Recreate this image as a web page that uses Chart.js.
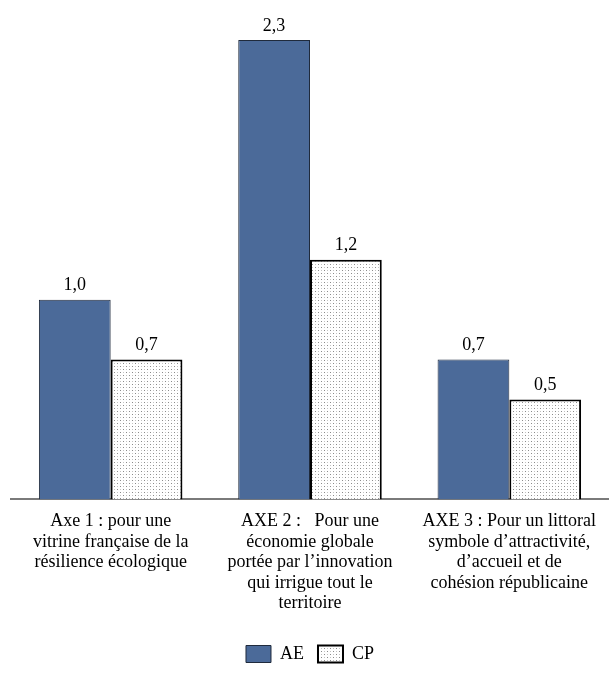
<!DOCTYPE html>
<html lang="fr">
<head>
<meta charset="utf-8">
<script src="https://cdn.jsdelivr.net/npm/chart.js@4.4.1/dist/chart.umd.min.js"></script>
<style>
    html, body { margin: 0; padding: 0; background: #ffffff; }
    #wrap { width: 609px; height: 673px; }
</style>
</head>
<body>
<div id="wrap"><canvas id="axesChart" width="609" height="673"></canvas></div>
<script>
// ==============================
//  DONNÉES
// ==============================

const categories = [
    ["Axe 1 : pour une", "vitrine française de la", "résilience écologique"],
    ["AXE 2 :   Pour une", "économie globale", "portée par l’innovation", "qui irrigue tout le", "territoire"],
    ["AXE 3 : Pour un littoral", "symbole d’attractivité,", "d’accueil et de", "cohésion républicaine"]
];

const seriesNames = ["AE", "CP"];
const aeValues = [1.0, 2.3, 0.7];
const cpValues = [0.7, 1.2, 0.5];

const FONT_FAMILY = "'Liberation Serif', 'DejaVu Serif', serif";

// ==============================
//  MOTIF POINTILLÉ (CP)
// ==============================

function makeDotPattern() {
    const tile = document.createElement("canvas");
    tile.width = 6;
    tile.height = 6;
    const ctx = tile.getContext("2d");
    ctx.fillStyle = "#ffffff";
    ctx.fillRect(0, 0, 6, 6);
    ctx.fillStyle = "#8a8a8a";
    ctx.fillRect(0, 0, 1, 1);
    ctx.fillRect(3, 3, 1, 1);
    ctx.fillStyle = "#c4c4c4";
    ctx.fillRect(0, 3, 1, 1);
    ctx.fillRect(3, 0, 1, 1);
    return document.getElementById("axesChart").getContext("2d").createPattern(tile, "repeat");
}

// Étiquettes de valeur au-dessus des barres
const valueLabels = {
    id: "valueLabels",
    afterDatasetsDraw(chart) {
        const ctx = chart.ctx;
        ctx.save();
        ctx.font = "18px " + FONT_FAMILY;
        ctx.fillStyle = "#000000";
        ctx.textAlign = "center";
        ctx.textBaseline = "bottom";
        chart.data.datasets.forEach(function (dataset, i) {
            chart.getDatasetMeta(i).data.forEach(function (bar, j) {
                const text = dataset.data[j].toFixed(1).replace(".", ",");
                ctx.fillText(text, bar.x, bar.y - 5);
            });
        });
        ctx.restore();
    }
};

const dotPattern = makeDotPattern();

new Chart(document.getElementById("axesChart"), {
    type: "bar",
    data: {
        labels: categories,
        datasets: [
            {
                label: seriesNames[0],
                data: aeValues,
                backgroundColor: "#4b6a99",
                borderColor: "#1f2a3c",
                borderWidth: 1,
                categoryPercentage: 0.72,
                barPercentage: 1.0
            },
            {
                label: seriesNames[1],
                data: cpValues,
                backgroundColor: dotPattern,
                borderColor: "#000000",
                borderWidth: 2,
                categoryPercentage: 0.72,
                barPercentage: 1.0
            }
        ]
    },
    options: {
        responsive: false,
        animation: false,
        layout: {
            padding: { left: 11, right: 0, top: 0, bottom: 0 }
        },
        plugins: {
            legend: {
                position: "bottom",
                labels: {
                    color: "#000000",
                    boxWidth: 25,
                    boxHeight: 17,
                    padding: 14,
                    font: { family: FONT_FAMILY, size: 18 }
                }
            },
            tooltip: { enabled: false }
        },
        scales: {
            x: {
                grid: { display: false, drawTicks: false },
                border: { display: true, color: "#7a7a7a", width: 2 },
                ticks: {
                    color: "#000000",
                    autoSkip: false,
                    maxRotation: 0,
                    padding: 12,
                    font: { family: FONT_FAMILY, size: 18, lineHeight: 1.14 }
                },
                // espace libre entre les libellés et la légende
                afterFit: function (scale) {
                    scale.height += 5;
                }
            },
            y: {
                display: false,
                min: 0,
                max: 2.5
            }
        }
    },
    plugins: [valueLabels]
});
</script>
</body>
</html>
